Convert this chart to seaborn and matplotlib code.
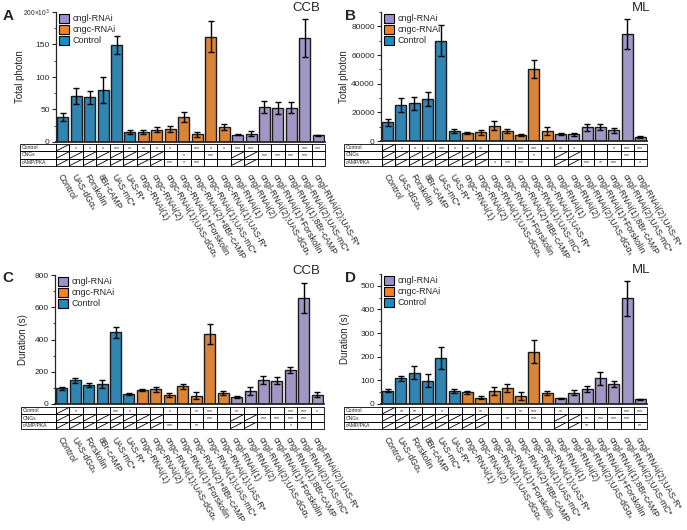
import pandas as pd
import seaborn as sns
import matplotlib.pyplot as plt
import matplotlib.transforms as mtransforms
from matplotlib.patches import Patch, Rectangle
from matplotlib.ticker import MultipleLocator

W, H = 687, 530

categories = [
    "Control", "UAS-dGαₛ", "Forskolin", "8Br-cAMP", "UAS-mC*", "UAS-R*",
    "cngc-RNAi(1)", "cngc-RNAi(2)", "cngc-RNAi(1);UAS-dGαₛ",
    "cngc-RNAi(1)+Forskolin", "cngc-RNAi(2)+8Br-cAMP", "cngc-RNAi(1);UAS-mC*",
    "cngc-RNAi(1);UAS-R*", "cngl-RNAi(1)", "cngl-RNAi(2)",
    "cngl-RNAi(2);UAS-dGαₛ", "cngl-RNAi(1)+Forskolin", "cngl-RNAi(1);8Br-cAMP",
    "cngl-RNAi(2);UAS-mC*", "cngl-RNAi(2);UAS-R*",
]
groups = ["Control"] * 6 + ["cngc-RNAi"] * 7 + ["cngl-RNAi"] * 7
row_names = ["Control", "CNGs", "cAMP/PKA"]

# panel A: CCB total photon (x10^3)
ccb_photon = [39, 71, 69, 80, 149, 16, 16, 19, 20, 38, 12, 162, 23, 11, 13, 54, 52, 53, 160, 10]
ccb_photon_err = [6, 12, 10, 20, 14, 3, 3, 4, 4, 8, 4, 24, 5, 1, 4, 9, 9, 8, 29, 1.5]
# panel B: ML total photon
ml_photon = [13100, 25100, 26300, 29300, 69900, 6900, 5500, 6000, 10800, 6900,
             4100, 50300, 7100, 4800, 4600, 9700, 9700, 7400, 74700, 2800]
ml_photon_err = [2300, 4600, 4600, 4700, 10700, 1500, 800, 1500, 3000, 1500,
                 700, 6100, 2800, 900, 900, 2500, 2000, 1500, 10200, 600]
# panel C: CCB duration (s)
ccb_duration = [98, 147, 120, 122, 445, 62, 87, 90, 58, 110, 52, 437, 70, 42, 80, 150, 145, 212, 657, 58]
ccb_duration_err = [10, 15, 12, 25, 35, 4, 7, 18, 12, 15, 22, 62, 12, 6, 25, 25, 20, 20, 95, 15]
# panel D: ML duration (s)
ml_duration = [57, 109, 132, 99, 195, 54, 50, 26, 55, 67, 35, 222, 47, 25, 48, 64, 108, 85, 447, 20]
ml_duration_err = [7, 10, 28, 28, 47, 8, 6, 6, 15, 17, 17, 50, 10, 2, 12, 13, 28, 12, 75, 3]

# significance tables ('/' = not tested)
A_control = ["/", "*", "*", "*", "***", "**", "**", "*", "*", "", "***", "*", "*", "***", "***", "", "", "", "***", "***"]
A_cngs = ["/"] * 8 + ["", "*", "", "***", "", "/", "/", "***", "***", "***", "***", ""]
A_camp = ["/"] * 8 + ["***", "*", "***", "", "", "/", "/", "", "", "", "", ""]

B_control = ["/", "*", "*", "*", "***", "*", "**", "**", "", "*", "***", "***", "**", "**", "*", "", "", "*", "***", "***"]
B_cngs = ["/"] * 8 + ["", "", "", "*", "", "/", "/", "", "", "", "***", ""]
B_camp = ["/"] * 8 + ["*", "***", "***", "", "", "/", "/", "***", "**", "***", "", "*"]

C_control = ["/", "*", "", "", "***", "*", "", "", "*", "", "**", "***", "", "**", "", "", "", "***", "***", "*"]
C_cngs = ["/"] * 8 + ["", "", "", "***", "", "/", "/", "***", "***", "***", "***", ""]
C_camp = ["/"] * 8 + ["***", "", "**", "", "", "/", "/", "", "", "*", "", ""]

D_control = ["/", "**", "**", "", "*", "", "", "**", "", "", "**", "***", "", "**", "", "", "", "", "***", "***"]
D_cngs = ["/"] * 8 + ["", "**", "", "***", "", "/", "/", "**", "***", "***", "***", ""]
D_camp = ["/"] * 8 + ["", "", "", "", "", "/", "/", "**", "", "", "", "**"]

palette = {"Control": "#1a8cc8", "cngc-RNAi": "#f5821f", "cngl-RNAi": "#9b8fcc"}
legend_order = ["cngl-RNAi", "cngc-RNAi", "Control"]

sns.set_style("ticks")
plt.rcParams["font.family"] = ["Liberation Sans", "DejaVu Sans"]


def px_axes(fig, left, top, right, bottom):
    return fig.add_axes([left / W, 1 - bottom / H, (right - left) / W, (bottom - top) / H])


def draw_panel(fig, box, tbox, label_left, values, errors, ymax, yticks, yticklabels,
               minor, ylabel, ylabel_x, tag, tag_right, letter, letter_xy, table):
    left, top, right, bottom = box
    ax = px_axes(fig, left, top, right, bottom)
    df = pd.DataFrame({"condition": categories, "value": values, "group": groups})
    sns.barplot(data=df, x="condition", y="value", hue="group", order=categories,
                hue_order=["Control", "cngc-RNAi", "cngl-RNAi"], palette=palette,
                dodge=False, errorbar=None, width=0.82, edgecolor="#1a1a1a",
                linewidth=1.0, legend=False, ax=ax)
    ax.errorbar(range(len(values)), values, yerr=errors, fmt="none", ecolor="black",
                elinewidth=1, capsize=2.5, capthick=1)
    ax.set_xlim(-0.5, len(values) - 0.5)
    ax.set_ylim(0, ymax)
    ax.set_yticks(yticks)
    ax.set_yticklabels(yticklabels)
    ax.yaxis.set_minor_locator(MultipleLocator(minor))
    ax.tick_params(axis="y", labelsize=6, length=3, width=0.8, pad=1.5)
    ax.tick_params(axis="y", which="minor", length=1.8, width=0.6)
    ax.tick_params(axis="x", bottom=False, labelbottom=False)
    for lab in ax.get_yticklabels():
        if "×" in lab.get_text():
            lab.set_fontsize(4.8)
    ax.set_xlabel("")
    ax.set_ylabel(ylabel, fontsize=7)
    ax.yaxis.set_label_coords((ylabel_x - left) / (right - left), 0.5)
    sns.despine(ax=ax)
    ax.spines["left"].set_linewidth(0.9)
    ax.spines["bottom"].set_linewidth(1.3)

    handles = [Patch(facecolor=palette[g], edgecolor="black", linewidth=0.8, label=g)
               for g in legend_order]
    ax.legend(handles=handles, loc="upper left", bbox_to_anchor=(-0.01, 1.03),
              frameon=False, fontsize=6.5, handlelength=1.1, handleheight=1.2,
              handletextpad=0.4, labelspacing=0.15, borderaxespad=0.2)

    fig.text(tag_right / W, 1 - (top - 4) / H, tag, fontsize=9.5, ha="right", va="center")
    fig.text(letter_xy[0] / W, 1 - letter_xy[1] / H, letter, fontsize=11,
             fontweight="bold", ha="left", va="center")

    # significance table under the bars
    tl, tt, tr, tb = tbox
    axt = px_axes(fig, tl, tt, tr, tb)
    n = len(values)
    axt.set_xlim(-0.5, n - 0.5)
    axt.set_ylim(3, 0)
    col_px = (tr - tl) / n
    lab_w = (tl - label_left) / col_px
    for r, row in enumerate(table):
        axt.add_patch(Rectangle((-0.5 - lab_w, r), lab_w, 1, fill=False, lw=0.6,
                                ec="black", clip_on=False))
        axt.text(-0.5 - lab_w + 0.12, r + 0.5, row_names[r], fontsize=3.6,
                 ha="left", va="center", clip_on=False)
        for c, mark in enumerate(row):
            axt.add_patch(Rectangle((c - 0.5, r), 1, 1, fill=False, lw=0.6,
                                    ec="black", clip_on=False))
            if mark == "/":
                axt.plot([c - 0.45, c + 0.45], [r + 0.92, r + 0.08], color="black",
                         lw=0.6, clip_on=False)
            elif mark:
                axt.text(c, r + 0.55, mark, fontsize=3.8, ha="center", va="center")
    axt.set_xticks(range(n))
    axt.set_xticklabels(categories, rotation=-60, ha="left", va="center",
                        rotation_mode="anchor", fontsize=6.2)
    axt.tick_params(axis="x", length=0, pad=6)
    shift = mtransforms.ScaledTranslation(-3 / 100, 0, fig.dpi_scale_trans)
    for lab in axt.get_xticklabels():
        lab.set_transform(lab.get_transform() + shift)
    axt.set_yticks([])
    for s in axt.spines.values():
        s.set_visible(False)
    return ax


fig = plt.figure(figsize=(W / 100, H / 100), dpi=100)

draw_panel(fig, (56, 12, 325, 142), (56, 144, 325, 166), 20,
           ccb_photon, ccb_photon_err, 200, [0, 50, 100, 150, 200],
           ["0", "50", "100", "150", "200×10$^3$"], 25, "Total photon", 25, "CCB", 320,
           "A", (3, 16), [A_control, A_cngs, A_camp])
draw_panel(fig, (381, 12, 647, 141), (382, 144, 647, 166), 344,
           ml_photon, ml_photon_err, 90000, [0, 20000, 40000, 60000, 80000],
           ["0", "20000", "40000", "60000", "80000"], 10000, "Total photon", 349, "ML", 650,
           "B", (345, 16), [B_control, B_cngs, B_camp])
draw_panel(fig, (55, 275, 324, 404), (56, 407, 324, 429), 21,
           ccb_duration, ccb_duration_err, 800, [0, 200, 400, 600, 800],
           ["0", "200", "400", "600", "800"], 100, "Duration (s)", 28, "CCB", 320,
           "C", (2, 278), [C_control, C_cngs, C_camp])
draw_panel(fig, (381, 274, 647, 404), (382, 407, 647, 429), 344,
           ml_duration, ml_duration_err, 550, [0, 100, 200, 300, 400, 500],
           ["0", "100", "200", "300", "400", "500"], 50, "Duration (s)", 350, "ML", 650,
           "D", (345, 278), [D_control, D_cngs, D_camp])

fig.savefig("out.png", dpi=100)
